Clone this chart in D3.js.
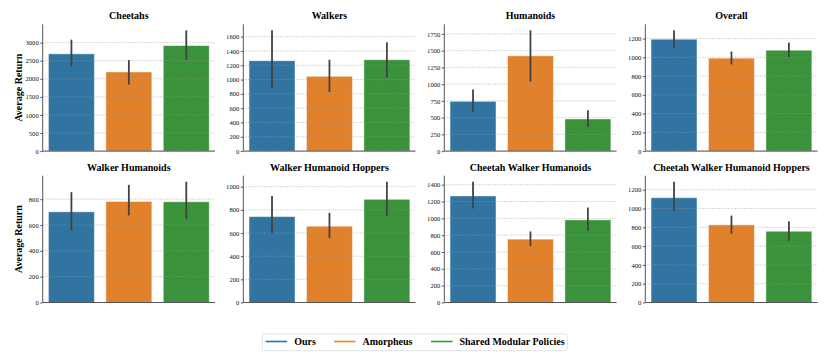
<!DOCTYPE html>
<html>
<head>
<meta charset="utf-8">
<script src="https://cdn.jsdelivr.net/npm/d3@7"></script>
<style>
  html, body { margin: 0; padding: 0; background: #fff; }
  svg { display: block; }
</style>
</head>
<body>
<svg id="chart" width="830" height="356"></svg>
<script>
// ---- data ----
const categories = ["Cheetahs", "Walkers", "Humanoids", "Overall",
  "Walker Humanoids", "Walker Humanoid Hoppers", "Cheetah Walker Humanoids", "Cheetah Walker Humanoid Hoppers"];
const methods = ["Ours", "Amorpheus", "Shared Modular Policies"];

const oursMean = [2690, 1263, 743, 1193, 702, 742, 1266, 1115];
const oursLow  = [2341, 874, 584, 1097, 560, 598, 1116, 970];
const oursHigh = [3083, 1688, 922, 1288, 854, 920, 1435, 1285];

const amorMean = [2188, 1045, 1423, 991, 782, 659, 753, 826];
const amorLow  = [1839, 827, 1041, 925, 674, 556, 670, 731];
const amorHigh = [2517, 1277, 1804, 1062, 911, 774, 844, 925];

const smpMean = [2918, 1277, 480, 1076, 780, 891, 982, 758];
const smpLow  = [2517, 1027, 361, 1002, 645, 748, 852, 657];
const smpHigh = [3340, 1521, 610, 1158, 935, 1043, 1128, 864];

const yTicks = [
  [0, 500, 1000, 1500, 2000, 2500, 3000],
  [0, 200, 400, 600, 800, 1000, 1200, 1400, 1600],
  [0, 250, 500, 750, 1000, 1250, 1500, 1750],
  [0, 200, 400, 600, 800, 1000, 1200],
  [0, 200, 400, 600, 800],
  [0, 200, 400, 600, 800, 1000],
  [0, 200, 400, 600, 800, 1000, 1200, 1400],
  [0, 200, 400, 600, 800, 1000, 1200]
];
const yLabel = "Average Return";

const barColors = ["#3274a1", "#e1812c", "#3a923a"];
const lineColors = ["#1f77b4", "#ff7f0e", "#2ca02c"];

// ---- layout ----
const colLeft = [42.7, 243.3, 444.3, 645.3];
const plotW = 172.3;
const rowTop = [24.3, 175.7];
const plotH = 126.8;
const serif = "'Liberation Serif', 'Times New Roman', serif";

const svg = d3.select("#chart");
const means = [oursMean, amorMean, smpMean];
const lows = [oursLow, amorLow, smpLow];
const highs = [oursHigh, amorHigh, smpHigh];

categories.forEach((cat, i) => {
  const col = i % 4, row = Math.floor(i / 4);
  const g = svg.append("g").attr("transform", `translate(${colLeft[col]},${rowTop[row]})`);
  const recs = methods.map((m, k) => ({m, k, mean: means[k][i], lo: lows[k][i], hi: highs[k][i]}));
  const ymax = d3.max(recs, d => d.hi) * 1.05;
  const y = d3.scaleLinear().domain([0, ymax]).range([plotH, 0]);
  const x = d3.scaleBand().domain(methods).range([0, plotW]).paddingInner(0.2).paddingOuter(0.1);

  // bars
  g.selectAll("rect.bar").data(recs).enter().append("rect")
    .attr("x", d => x(d.m))
    .attr("width", x.bandwidth())
    .attr("y", d => y(d.mean))
    .attr("height", d => plotH - y(d.mean))
    .attr("fill", d => barColors[d.k])
    .attr("stroke", "rgba(255,255,255,0.45)")
    .attr("stroke-width", 1);

  // grid (drawn on top)
  g.selectAll("line.grid").data(yTicks[i]).enter().append("line")
    .attr("x1", 0).attr("x2", plotW)
    .attr("y1", d => y(d)).attr("y2", d => y(d))
    .attr("stroke", "#9a9a9a")
    .attr("stroke-opacity", 0.75)
    .attr("stroke-width", 0.8)
    .attr("stroke-dasharray", "1,1.3");

  // error bars
  g.selectAll("line.err").data(recs).enter().append("line")
    .attr("x1", d => x(d.m) + x.bandwidth() / 2)
    .attr("x2", d => x(d.m) + x.bandwidth() / 2)
    .attr("y1", d => y(d.lo)).attr("y2", d => y(d.hi))
    .attr("stroke", "#424242")
    .attr("stroke-width", 1.8);

  // y axis
  const ax = g.append("g").call(d3.axisLeft(y).tickValues(yTicks[i]).tickSize(2.5).tickPadding(1.5).tickFormat(d3.format("d")));
  ax.select(".domain").attr("stroke", "#555").attr("stroke-width", 1).attr("d", `M0,0V${plotH}`);
  ax.selectAll(".tick line").attr("stroke", "#333").attr("stroke-width", 0.8);
  ax.selectAll(".tick text").attr("font-family", serif).attr("font-size", 6.6).attr("fill", "#111");

  // x axis line
  g.append("line").attr("x1", 0).attr("x2", plotW).attr("y1", plotH).attr("y2", plotH)
    .attr("stroke", "#555").attr("stroke-width", 1);

  // title
  g.append("text")
    .attr("x", plotW / 2).attr("y", -5)
    .attr("text-anchor", "middle")
    .attr("font-family", serif).attr("font-weight", "bold").attr("font-size", 10)
    .attr("fill", "#000")
    .text(cat);

  if (col === 0) {
    svg.append("text")
      .attr("transform", `translate(22,${rowTop[row] + plotH / 2}) rotate(-90)`)
      .attr("text-anchor", "middle")
      .attr("font-family", serif).attr("font-weight", "bold").attr("font-size", 10)
      .attr("fill", "#000")
      .text(yLabel);
  }
});

// ---- legend ----
const legendX = [265.7, 334, 431];
const lg = svg.append("g");
lg.append("rect").attr("x", 262.3).attr("y", 334).attr("width", 305).attr("height", 16.7)
  .attr("fill", "#fff").attr("stroke", "#dcdcdc").attr("stroke-width", 0.8).attr("rx", 1.5);
methods.forEach((m, k) => {
  lg.append("line").attr("x1", legendX[k]).attr("x2", legendX[k] + 21.5)
    .attr("y1", 341.5).attr("y2", 341.5)
    .attr("stroke", lineColors[k]).attr("stroke-width", 1.6);
  lg.append("text").attr("x", legendX[k] + 28.5).attr("y", 345)
    .attr("font-family", serif).attr("font-weight", "bold").attr("font-size", 10)
    .attr("fill", "#000").text(m);
});
</script>
</body>
</html>
